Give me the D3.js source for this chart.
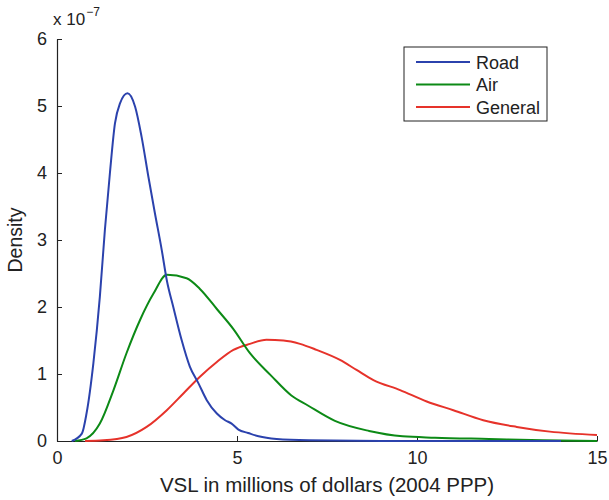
<!doctype html>
<html lang="en">
<head>
    <meta charset="utf-8">
    <style>
      body{ margin:0; background:#fff; }
      text{ font-family: "Liberation Sans", Arial, Helvetica, sans-serif; fill:#222; }
    </style>
</head>
<body>
    <script src="https://d3js.org/d3.v7.min.js"></script>
    <div id="chart"></div>
    <script>
        // values (density in units of 1e-7)
        var roadX = [0.41, 0.69, 0.82, 1.01, 1.19, 1.33, 1.47, 1.61, 1.75, 1.96, 2.17, 2.35, 2.54, 2.72, 2.91, 3.05, 3.23, 3.46, 3.69, 3.93, 4.16, 4.44, 4.67, 4.85, 5.04, 5.31, 5.6, 6.1, 7.0, 9.0, 12.0, 14.0];
        var roadY = [0.0, 0.11, 0.41, 1.16, 2.15, 3.15, 4.0, 4.74, 5.04, 5.19, 4.99, 4.54, 3.94, 3.40, 2.85, 2.40, 2.0, 1.51, 1.11, 0.86, 0.61, 0.41, 0.31, 0.26, 0.17, 0.12, 0.07, 0.03, 0.01, 0.0, 0.0, 0.0];

        var airX = [0.5, 0.82, 1.19, 1.57, 1.93, 2.31, 2.68, 3.05, 3.6, 3.97, 4.44, 4.9, 5.36, 5.94, 6.51, 6.97, 7.72, 8.67, 9.6, 10.5, 12.0, 13.5, 15.0];
        var airY = [0.0, 0.04, 0.26, 0.76, 1.31, 1.81, 2.20, 2.48, 2.43, 2.27, 1.97, 1.67, 1.31, 0.98, 0.68, 0.53, 0.30, 0.15, 0.07, 0.05, 0.03, 0.01, 0.0];

        var genX = [0.78, 1.29, 1.93, 2.49, 3.05, 3.51, 3.97, 4.44, 4.9, 5.36, 5.82, 6.29, 6.75, 7.21, 7.86, 8.32, 8.79, 9.53, 10.27, 11.01, 11.84, 12.77, 13.69, 15.0];
        var genY = [0.0, 0.01, 0.06, 0.21, 0.46, 0.71, 0.96, 1.18, 1.36, 1.45, 1.51, 1.50, 1.45, 1.36, 1.21, 1.06, 0.91, 0.76, 0.59, 0.46, 0.31, 0.21, 0.14, 0.09];

        var seriesNames = ["Road", "Air", "General"];
        var seriesColors = ["#2b42ad", "#0c8a16", "#e6322a"];
        var xTicks = [0, 5, 10, 15];
        var yTicks = [0, 1, 2, 3, 4, 5, 6];

        var width = 609, height = 500;
        var margin = {left: 57, right: 12, top: 39, bottom: 59};

        var svg = d3.select("#chart").append("svg")
                    .attr("width", width)
                    .attr("height", height);

        var x = d3.scaleLinear().domain([0, 15]).range([margin.left, width - margin.right]);
        var y = d3.scaleLinear().domain([0, 6]).range([height - margin.bottom, margin.top]);

        // axes with ticks pointing into the plot
        var xAxis = svg.append("g")
           .attr("transform", "translate(0," + y(0) + ")")
           .call(d3.axisBottom(x).tickValues(xTicks).tickFormat(d3.format("d"))
                 .tickSizeInner(-5).tickSizeOuter(0).tickPadding(10));
        var yAxis = svg.append("g")
           .attr("transform", "translate(" + x(0) + ",0)")
           .call(d3.axisLeft(y).tickValues(yTicks).tickFormat(d3.format("d"))
                 .tickSizeInner(-5).tickSizeOuter(0).tickPadding(10));

        [xAxis, yAxis].forEach(function(g){
            g.select(".domain").attr("stroke", "#222").attr("stroke-width", 1.2);
            g.selectAll(".tick line").attr("stroke", "#222").attr("stroke-width", 1);
            g.selectAll(".tick text").style("font-size", "18px").attr("fill", "#222");
        });

        // multiplier
        var mult = svg.append("text").attr("x", 53).attr("y", 25).style("font-size", "17px");
        mult.append("tspan").text("x 10");
        mult.append("tspan").attr("dy", -9).attr("dx", 1).style("font-size", "12px").text("\u22127");

        svg.append("text")
           .attr("transform", "translate(22," + ((y(0) + y(6)) / 2) + ") rotate(-90)")
           .attr("text-anchor", "middle")
           .style("font-size", "19.5px")
           .text("Density");

        svg.append("text")
           .attr("x", (x(0) + x(15)) / 2)
           .attr("y", 492)
           .attr("text-anchor", "middle")
           .style("font-size", "20.5px")
           .text("VSL in millions of dollars (2004 PPP)");

        var line = d3.line()
                     .x(function(d){ return x(d[0]); })
                     .y(function(d){ return y(d[1]); })
                     .curve(d3.curveMonotoneX);

        var series = [d3.zip(roadX, roadY), d3.zip(airX, airY), d3.zip(genX, genY)];
        // draw general first so road sits on top near zero
        [2, 1, 0].forEach(function(i){
            svg.append("path")
               .datum(series[i])
               .attr("d", line)
               .attr("fill", "none")
               .attr("stroke", seriesColors[i])
               .attr("stroke-width", 2);
        });

        // legend
        var lg = svg.append("g").attr("transform", "translate(404,47)");
        lg.append("rect").attr("width", 143).attr("height", 74)
          .attr("fill", "#fff").attr("stroke", "#222").attr("stroke-width", 1);
        seriesNames.forEach(function(n, i){
            var yy = 15 + i * 22.5;
            lg.append("line").attr("x1", 12).attr("x2", 66).attr("y1", yy).attr("y2", yy)
              .attr("stroke", seriesColors[i]).attr("stroke-width", 2);
            lg.append("text").attr("x", 72).attr("y", yy + 6.5).style("font-size", "18px").text(n);
        });
    </script>
</body>
</html>
